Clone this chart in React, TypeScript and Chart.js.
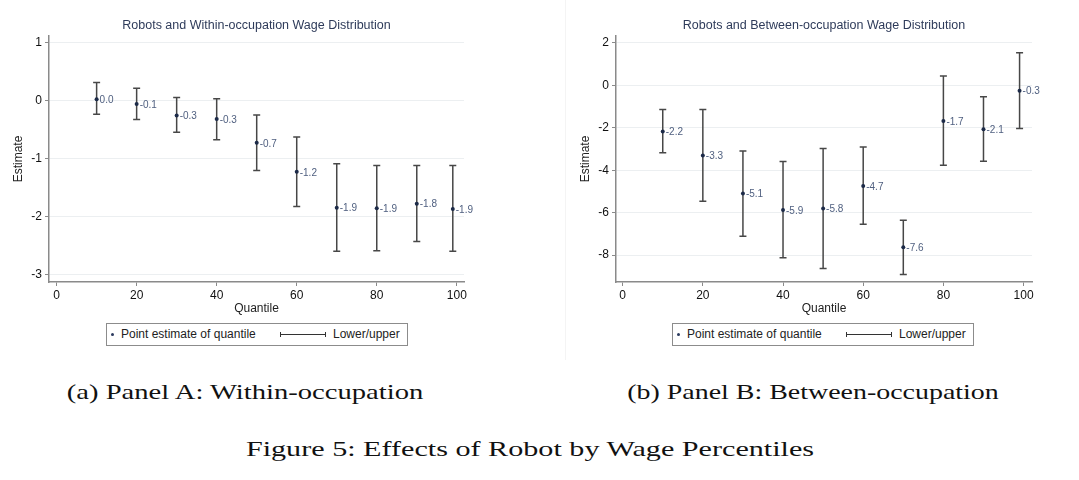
import { useEffect, useRef } from "react";
import { Chart, registerables } from "chart.js";

Chart.register(...registerables);

const quantiles = [10, 20, 30, 40, 50, 60, 70, 80, 90, 99];
const xTicks = [0, 20, 40, 60, 80, 100];

const withinEstimate = [0.02, -0.06, -0.26, -0.32, -0.73, -1.23, -1.85, -1.86, -1.78, -1.87];
const withinLower = [-0.24, -0.33, -0.55, -0.68, -1.21, -1.83, -2.6, -2.59, -2.43, -2.6];
const withinUpper = [0.31, 0.21, 0.05, 0.03, -0.25, -0.63, -1.09, -1.12, -1.12, -1.12];
const withinLabels = ["0.0", "-0.1", "-0.3", "-0.3", "-0.7", "-1.2", "-1.9", "-1.9", "-1.8", "-1.9"];
const withinYTicks = [-3, -2, -1, 0, 1];

const betweenEstimate = [-2.17, -3.31, -5.1, -5.87, -5.81, -4.74, -7.63, -1.68, -2.07, -0.25];
const betweenLower = [-3.17, -5.46, -7.11, -8.13, -8.63, -6.55, -8.92, -3.77, -3.58, -2.03];
const betweenUpper = [-1.13, -1.13, -3.09, -3.59, -2.97, -2.9, -6.36, 0.44, -0.53, 1.54];
const betweenLabels = ["-2.2", "-3.3", "-5.1", "-5.9", "-5.8", "-4.7", "-7.6", "-1.7", "-2.1", "-0.3"];
const betweenYTicks = [-8, -6, -4, -2, 0, 2];

const SANS = "'Liberation Sans', Arial, Helvetica, sans-serif";
const SERIF = "'Liberation Serif', 'Times New Roman', serif";

type PanelProps = {
  left: number;
  width: number;
  title: string;
  estimate: number[];
  lower: number[];
  upper: number[];
  labels: string[];
  yTicks: number[];
  yMin: number;
  yMax: number;
  xMin: number;
  xMax: number;
  yWidth: number;
  yTitlePad: number;
  padRight: number;
};

function Panel(props: PanelProps) {
  const canvasRef = useRef<HTMLCanvasElement>(null);
  const chartRef = useRef<Chart | null>(null);

  useEffect(() => {
    if (!canvasRef.current) return;
    if (chartRef.current) chartRef.current.destroy();

    // error bars (under the dots) and value labels (on top)
    const errorBars = {
      id: "errorBars",
      beforeDatasetsDraw(chart: any) {
        const { ctx, scales } = chart;
        ctx.save();
        ctx.strokeStyle = "#474747";
        ctx.lineWidth = 1.5;
        quantiles.forEach((q, i) => {
          const px = scales.x.getPixelForValue(q);
          const top = scales.y.getPixelForValue(props.upper[i]);
          const bot = scales.y.getPixelForValue(props.lower[i]);
          ctx.beginPath();
          ctx.moveTo(px, top);
          ctx.lineTo(px, bot);
          ctx.moveTo(px - 3.5, top);
          ctx.lineTo(px + 3.5, top);
          ctx.moveTo(px - 3.5, bot);
          ctx.lineTo(px + 3.5, bot);
          ctx.stroke();
        });
        ctx.restore();
      },
      afterDatasetsDraw(chart: any) {
        const { ctx, scales } = chart;
        ctx.save();
        ctx.fillStyle = "#506080";
        ctx.font = "10px " + SANS;
        ctx.textAlign = "left";
        ctx.textBaseline = "middle";
        quantiles.forEach((q, i) => {
          const px = scales.x.getPixelForValue(q);
          const py = scales.y.getPixelForValue(props.estimate[i]);
          ctx.fillText(props.labels[i], px + 3, py + 1);
        });
        ctx.restore();
      },
    };

    chartRef.current = new Chart(canvasRef.current, {
      type: "scatter",
      data: {
        datasets: [
          {
            label: "Point estimate of quantile",
            data: quantiles.map((q, i) => ({ x: q, y: props.estimate[i] })),
            pointRadius: 2,
            pointBackgroundColor: "#1c2a48",
            pointBorderWidth: 0,
          },
        ],
      },
      options: {
        animation: false,
        responsive: false,
        layout: { padding: { left: 0, right: props.padRight, top: 0, bottom: 0 } },
        plugins: {
          legend: { display: false },
          tooltip: { enabled: false },
          title: {
            display: true,
            text: props.title,
            fullSize: false,
            color: "#2e3b5a",
            font: { family: SANS, size: 12.5, weight: "normal", lineHeight: 1.2 },
            padding: { top: 18, bottom: 3 },
          },
        },
        scales: {
          x: {
            type: "linear",
            min: props.xMin,
            max: props.xMax,
            afterBuildTicks: (scale: any) => {
              scale.ticks = xTicks.map((v) => ({ value: v }));
            },
            afterFit: (scale: any) => {
              scale.height = 34;
            },
            ticks: {
              color: "#111",
              font: { family: SANS, size: 12 },
              padding: 2,
              maxRotation: 0,
            },
            grid: { drawOnChartArea: false, tickLength: 4, tickColor: "#8a8a8a" },
            border: { color: "#8a8a8a", width: 1.5 },
            title: {
              display: true,
              text: "Quantile",
              color: "#222",
              font: { family: SANS, size: 12, lineHeight: 1.2 },
              padding: { top: 0, bottom: 0 },
            },
          },
          y: {
            type: "linear",
            min: props.yMin,
            max: props.yMax,
            afterBuildTicks: (scale: any) => {
              scale.ticks = props.yTicks.map((v) => ({ value: v }));
            },
            afterFit: (scale: any) => {
              scale.width = props.yWidth;
            },
            ticks: {
              color: "#111",
              font: { family: SANS, size: 12 },
              padding: 3,
            },
            grid: { color: "#eceff1", lineWidth: 1, tickLength: 4, tickColor: "#8a8a8a" },
            border: { color: "#8a8a8a", width: 1.5 },
            title: {
              display: true,
              text: "Estimate",
              color: "#222",
              font: { family: SANS, size: 12, lineHeight: 1.2 },
              padding: { top: props.yTitlePad, bottom: 0 },
            },
          },
        },
      },
      plugins: [errorBars],
    } as any);

    return () => {
      if (chartRef.current) {
        chartRef.current.destroy();
        chartRef.current = null;
      }
    };
  }, []);

  return (
    <canvas
      ref={canvasRef}
      width={props.width}
      height={316}
      style={{ position: "absolute", left: props.left, top: 0, width: props.width, height: 316 }}
    />
  );
}

function Legend({ left }: { left: number }) {
  return (
    <div
      style={{
        position: "absolute",
        left,
        top: 323,
        width: 302,
        height: 23,
        boxSizing: "border-box",
        border: "1px solid #8c8c8c",
        fontFamily: SANS,
        fontSize: 12,
        color: "#222",
        whiteSpace: "nowrap",
      }}
    >
      <div
        style={{
          position: "absolute",
          left: 4,
          top: 9,
          width: 3,
          height: 3,
          borderRadius: "50%",
          background: "#2b3a5e",
        }}
      />
      <span style={{ position: "absolute", left: 14, top: 0, lineHeight: "21px" }}>
        Point estimate of quantile
      </span>
      <div style={{ position: "absolute", left: 173, top: 10, width: 46, height: 1, background: "#333" }} />
      <div style={{ position: "absolute", left: 173, top: 8, width: 1, height: 5, background: "#333" }} />
      <div style={{ position: "absolute", left: 218, top: 8, width: 1, height: 5, background: "#333" }} />
      <span style={{ position: "absolute", left: 226, top: 0, lineHeight: "21px" }}>Lower/upper</span>
    </div>
  );
}

function Caption({ center, y, stretch, text }: { center: number; y: number; stretch: number; text: string }) {
  return (
    <div
      style={{
        position: "absolute",
        left: center - 400,
        width: 800,
        top: y - 15,
        lineHeight: "30px",
        textAlign: "center",
        fontFamily: SERIF,
        fontSize: 22,
        color: "#111",
        whiteSpace: "nowrap",
        transform: `scaleX(${stretch})`,
      }}
    >
      {text}
    </div>
  );
}

export default function App() {
  return (
    <div
      style={{
        position: "absolute",
        left: 0,
        top: 0,
        width: 1079,
        height: 480,
        background: "#fff",
        overflow: "hidden",
      }}
    >
      <div style={{ position: "absolute", left: 565, top: 0, width: 1, height: 360, background: "#f4f4f4" }} />
      <Panel
        left={0}
        width={540}
        title="Robots and Within-occupation Wage Distribution"
        estimate={withinEstimate}
        lower={withinLower}
        upper={withinUpper}
        labels={withinLabels}
        yTicks={withinYTicks}
        yMin={-3.13}
        yMax={1.11}
        xMin={-1.9}
        xMax={101.8}
        yWidth={49}
        yTitlePad={11}
        padRight={76}
      />
      <Panel
        left={540}
        width={539}
        title="Robots and Between-occupation Wage Distribution"
        estimate={betweenEstimate}
        lower={betweenLower}
        upper={betweenUpper}
        labels={betweenLabels}
        yTicks={betweenYTicks}
        yMin={-9.27}
        yMax={2.33}
        xMin={-1.66}
        xMax={102.1}
        yWidth={76}
        yTitlePad={38}
        padRight={47}
      />
      <Legend left={106} />
      <Legend left={672} />
      <Caption center={245} y={392} stretch={1.3} text="(a) Panel A: Within-occupation" />
      <Caption center={813} y={392} stretch={1.27} text="(b) Panel B: Between-occupation" />
      <Caption center={529.5} y={449} stretch={1.37} text="Figure 5: Effects of Robot by Wage Percentiles" />
    </div>
  );
}
